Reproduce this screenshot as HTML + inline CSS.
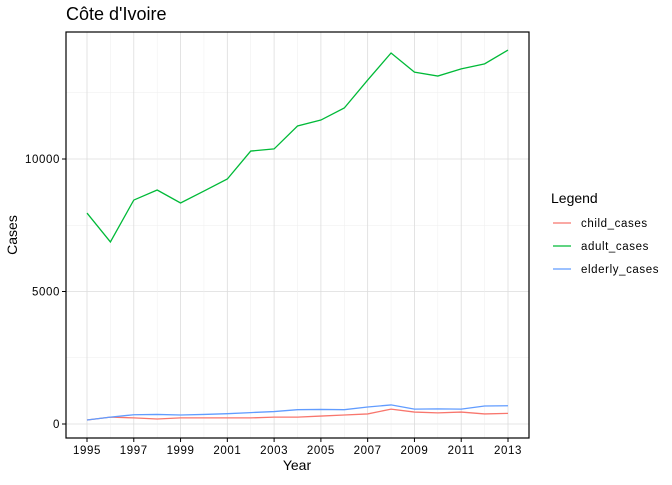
<!DOCTYPE html>
<html><head><meta charset="utf-8"><style>body{margin:0;background:#fff}svg{font-family:"Liberation Sans",sans-serif}</style></head>
<body>
<svg id="chart" width="672" height="480"></svg>
<script>
const years=[1995,1996,1997,1998,1999,2000,2001,2002,2003,2004,2005,2006,2007,2008,2009,2010,2011,2012,2013];
const childCases=[150,260,230,190,230,230,230,230,260,260,300,340,380,560,450,420,450,380,400];
const adultCases=[7960,6870,8450,8830,8340,8790,9245,10300,10380,11245,11470,11925,12980,14000,13280,13130,13400,13590,14110];
const elderlyCases=[150,260,350,360,340,360,390,430,470,540,550,540,640,720,560,570,560,680,690];
const yTicks=[0,5000,10000];
const xTicks=[1995,1997,1999,2001,2003,2005,2007,2009,2011,2013];
const seriesNames=["child_cases","adult_cases","elderly_cases"];
const colors=["#F8766D","#00BA38","#619CFF"];
const NS="http://www.w3.org/2000/svg";
const svg=document.getElementById('chart');
const L=66,R=529,T=32,B=438;
const x=v=>87+(v-1995)*(508-87)/18;
const y=v=>424-v*(424-159)/10000;
function mk(tag,attrs,parent){const e=document.createElementNS(NS,tag);for(const k in attrs)e.setAttribute(k,attrs[k]);(parent||svg).appendChild(e);return e;}
const grid=mk('g',{});


for(let v=0;v<=14000;v+=2500){const yy=y(v);if(yy<T||yy>B)continue;mk('line',{x1:L,x2:R,y1:yy,y2:yy,stroke:v%5000===0?'#dcdcdc':'#eeeeee','stroke-width':v%5000===0?0.8:0.5},grid);}
for(let yr=1995;yr<=2013;yr++){mk('line',{x1:x(yr),x2:x(yr),y1:T,y2:B,stroke:yr%2?'#dcdcdc':'#eeeeee','stroke-width':yr%2?0.8:0.5},grid);}
const all=[childCases,adultCases,elderlyCases];
all.forEach((s,i)=>{const p=mk('polyline',{points:s.map((v,j)=>x(years[j])+','+y(v)).join(' '),fill:'none',stroke:colors[i],'stroke-width':1.3});

});
const frame=mk('rect',{x:L,y:T,width:R-L,height:B-T,fill:'none',stroke:'#000','stroke-width':1.2});


yTicks.forEach(v=>{mk('line',{x1:L-4,x2:L,y1:y(v),y2:y(v),stroke:'#000'});const t=mk('text',{x:L-6,y:y(v)+4,'text-anchor':'end','font-size':11.5,'letter-spacing':0.6,fill:'#000'});t.textContent=v;

});
xTicks.forEach(v=>{mk('line',{x1:x(v),x2:x(v),y1:B,y2:B+4,stroke:'#000'});const t=mk('text',{x:x(v),y:B+16,'text-anchor':'middle','font-size':11.5,'letter-spacing':0.6,fill:'#000'});t.textContent=v;

});
</script>
<svg width="672" height="480" style="position:absolute;left:0;top:0">
<text x="66" y="20" font-size="18">Côte d'Ivoire</text>
<text x="297" y="470" font-size="14" text-anchor="middle">Year</text>
<text x="17" y="235" font-size="14" text-anchor="middle" transform="rotate(-90 17 235)">Cases</text>
<text x="551" y="203" font-size="14">Legend</text>
<g font-size="11.5" letter-spacing="0.6">
<g><line x1="553" x2="571" y1="223" y2="223" stroke="#F8766D" stroke-width="1.3"/><text x="581" y="227">child_cases</text></g>
<g><line x1="553" x2="571" y1="246" y2="246" stroke="#00BA38" stroke-width="1.3"/><text x="581" y="250">adult_cases</text></g>
<g><line x1="553" x2="571" y1="269" y2="269" stroke="#619CFF" stroke-width="1.3"/><text x="581" y="273">elderly_cases</text></g>
</g>
</svg>
</body></html>
